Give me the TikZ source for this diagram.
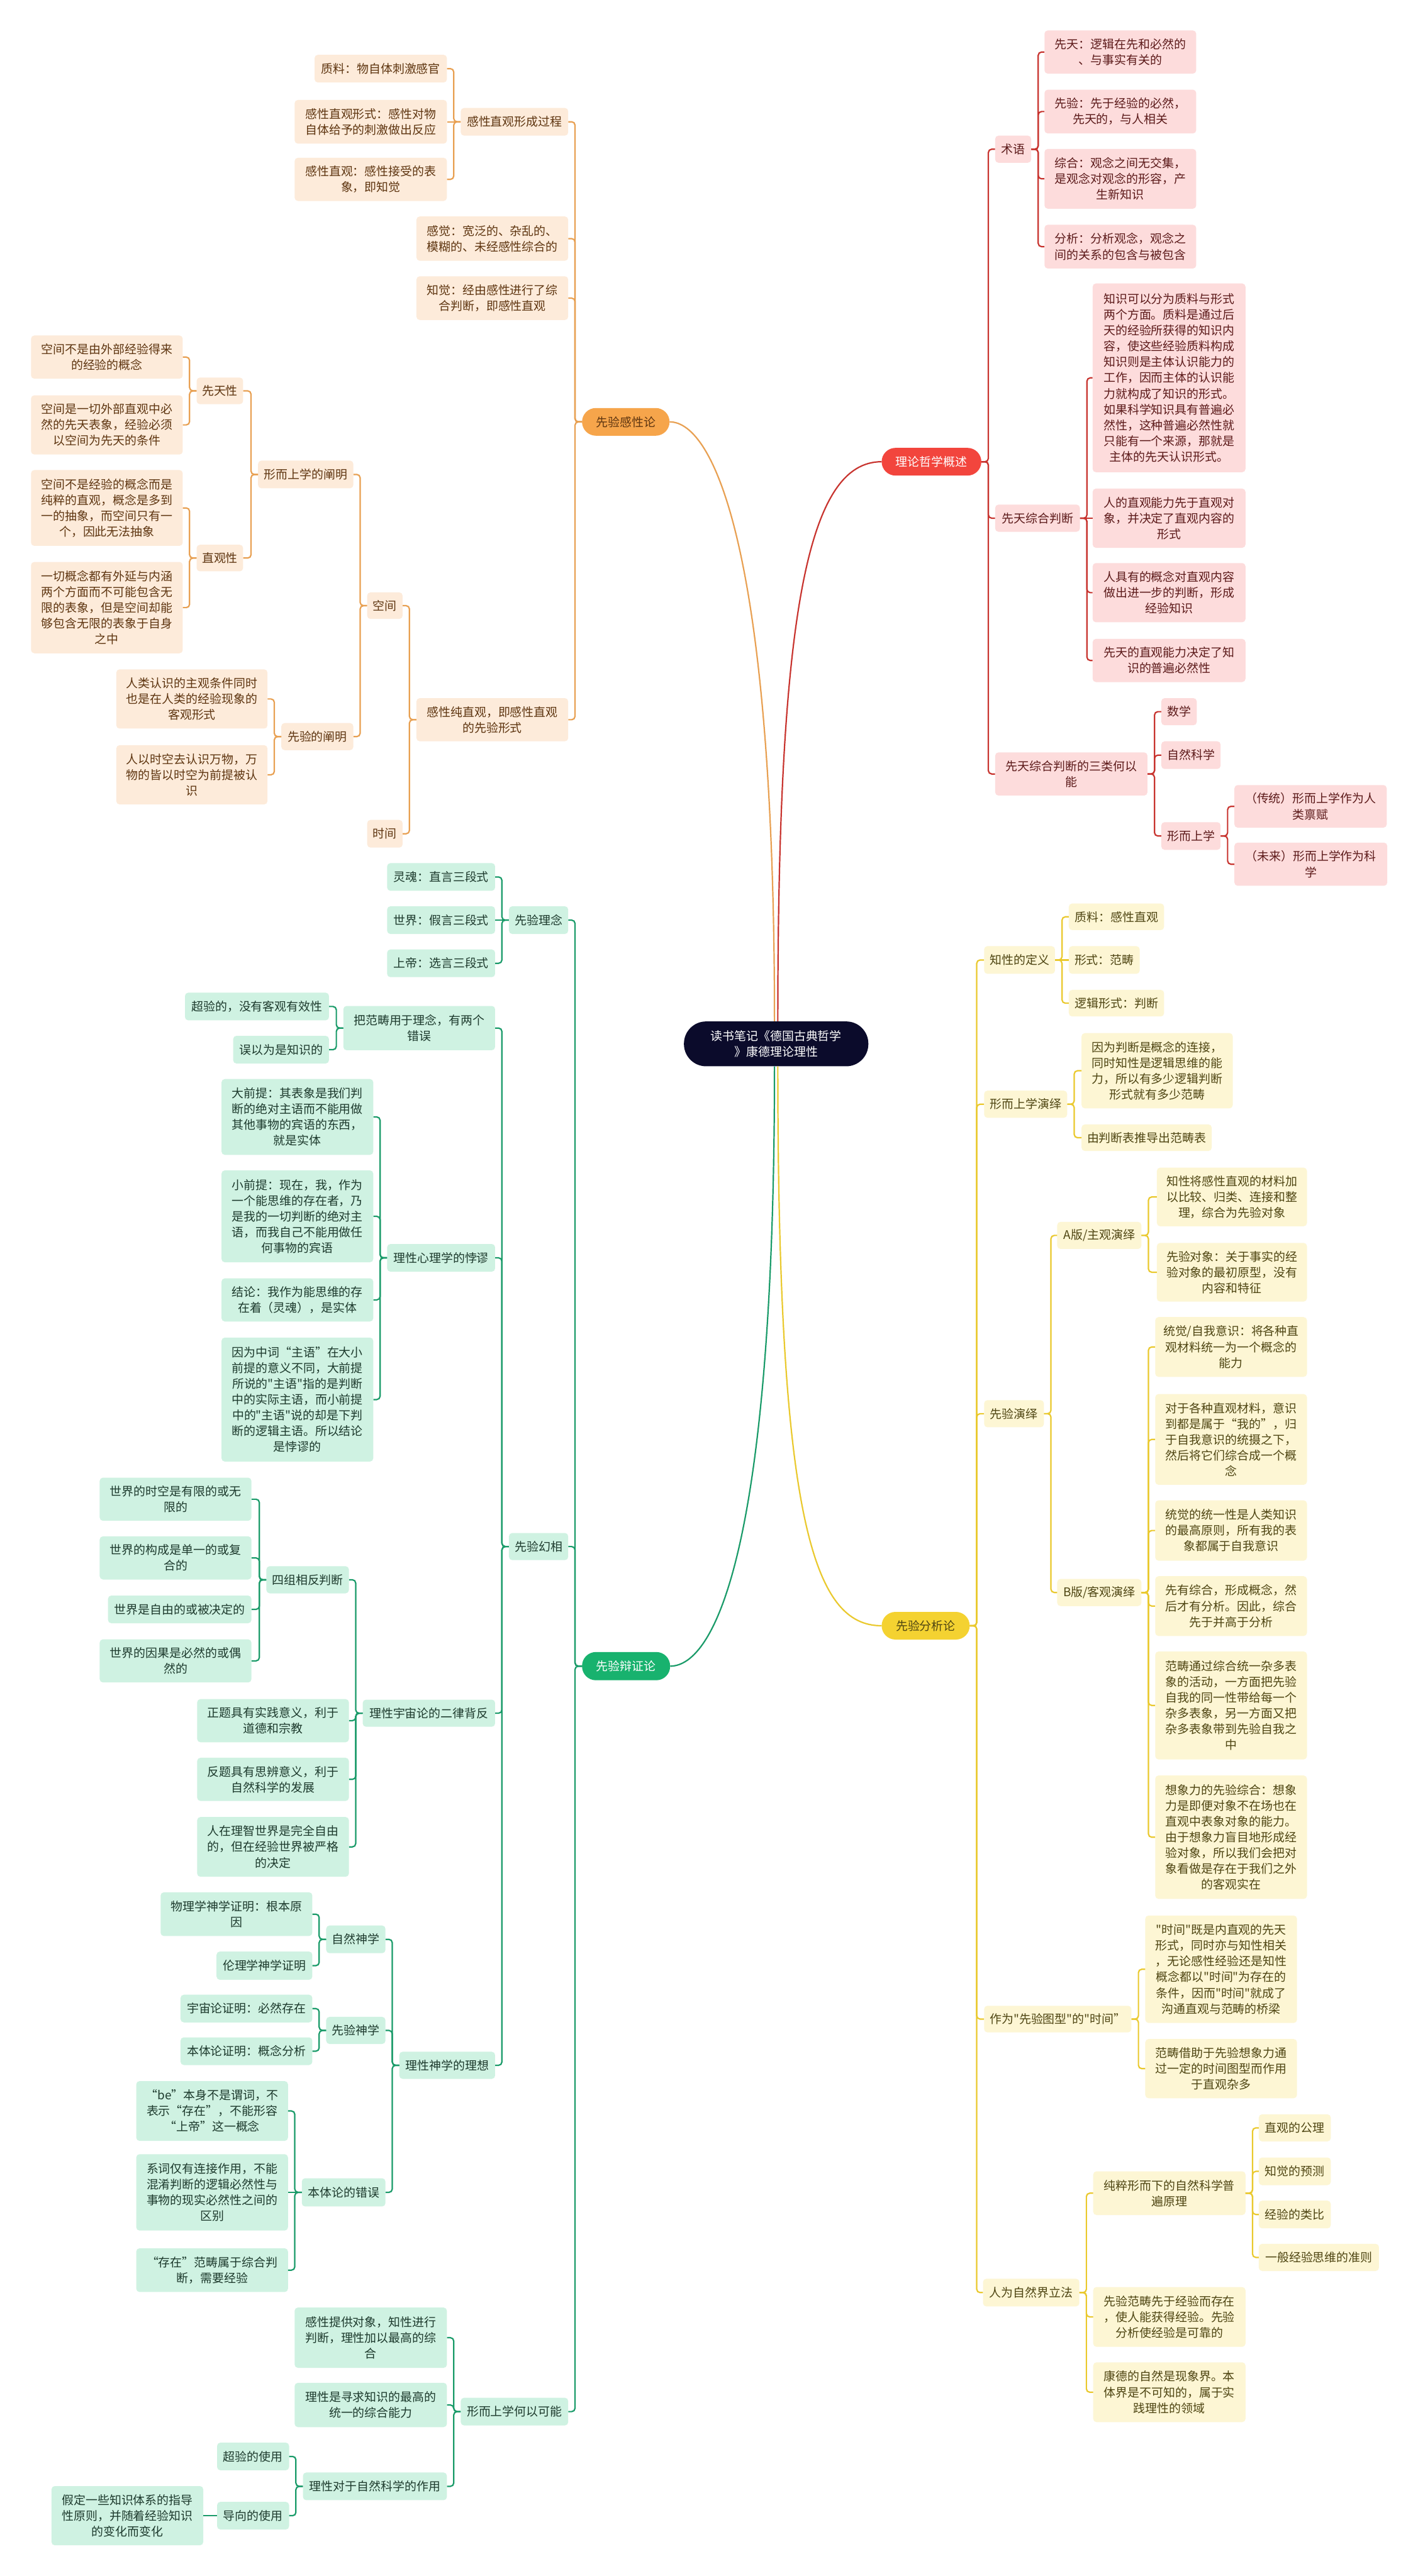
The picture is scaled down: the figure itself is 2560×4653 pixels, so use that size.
\documentclass[tikz,border=0pt]{standalone}
\usepackage{fontspec}
\newfontfamily\cjk{Noto Sans CJK SC}

\definecolor{rootbg}{HTML}{0B0B2B}
\definecolor{redmain}{HTML}{F2453D}
\definecolor{redline}{HTML}{C8342F}
\definecolor{redfill}{HTML}{FDDCDC}
\definecolor{redtext}{HTML}{5C1A1A}
\definecolor{ormain}{HTML}{F6A54B}
\definecolor{orline}{HTML}{E8A052}
\definecolor{orfill}{HTML}{FDEBDA}
\definecolor{ortext}{HTML}{5E3510}
\definecolor{ylmain}{HTML}{F4D231}
\definecolor{ylline}{HTML}{EAC92E}
\definecolor{ylfill}{HTML}{FDF6D4}
\definecolor{yltext}{HTML}{4E4512}
\definecolor{gnmain}{HTML}{18B26E}
\definecolor{gnline}{HTML}{1A9B69}
\definecolor{gnfill}{HTML}{CFF2E2}
\definecolor{gntext}{HTML}{1D3A2D}

\tikzset{
  nodefont/.style={font=\cjk\fontsize{21.5pt}{28.5pt}\selectfont},
  box/.style={nodefont, rounded corners=6pt, inner sep=0pt, align=center},
  sz/.style 2 args={minimum width=#1pt, minimum height=#2pt},
  pinkbox/.style={box, fill=redfill, text=redtext},
  peachbox/.style={box, fill=orfill, text=ortext},
  creambox/.style={box, fill=ylfill, text=yltext},
  mintbox/.style={box, fill=gnfill, text=gntext},
  mainnode/.style={nodefont, rounded corners=25pt, inner sep=0pt, align=center},
  rootnode/.style={nodefont, rounded corners=40pt, inner sep=0pt, align=center, fill=rootbg, text=white},
  redln/.style={draw=redline, line width=2.5pt, rounded corners=6pt},
  orln/.style={draw=orline, line width=2.5pt, rounded corners=6pt},
  ylln/.style={draw=ylline, line width=2.5pt, rounded corners=6pt},
  gnln/.style={draw=gnline, line width=2.5pt, rounded corners=6pt},
}
\newcommand{\linkR}[3]{\draw[#1] (#2.east) -- ++(12.5,0) |- (#3.west);}
\newcommand{\linkL}[3]{\draw[#1] (#2.west) -- ++(-12.5,0) |- (#3.east);}

\begin{document}
\begin{tikzpicture}[x=1pt,y=-1pt]
\fill[white] (0,0) rectangle (2560,4653);
\useasboundingbox (0,0) rectangle (2560,4653);

\node[rootnode, sz={333}{81}] (root) at (1401.5,1885.5) {读书笔记《德国古典哲学\\》康德理论理性};

% 理论哲学概述
\node[mainnode, fill=redmain, text=white, sz={180}{50}] (lilun) at (1682,834) {理论哲学概述};
\node[pinkbox, sz={65}{49}] (shuyu) at (1829.5,269.5) {术语};
\node[pinkbox, sz={274}{78}] (xiantian) at (2023,94) {先天：逻辑在先和必然的\\、与事实有关的};
\node[pinkbox, sz={274}{79}] (xianyan) at (2023,201.5) {先验：先于经验的必然，\\先天的，与人相关};
\node[pinkbox, sz={274}{108}] (zonghe) at (2023,323) {综合：观念之间无交集，\\是观念对观念的形容，产\\生新知识};
\node[pinkbox, sz={274}{79}] (fenxi) at (2023,445.5) {分析：分析观念，观念之\\间的关系的包含与被包含};
\node[pinkbox, sz={153}{49}] (xtzh) at (1873.5,936) {先天综合判断};
\node[pinkbox, sz={276}{341}] (zhishi) at (2111,682.5) {知识可以分为质料与形式\\两个方面。质料是通过后\\天的经验所获得的知识内\\容，使这些经验质料构成\\知识则是主体认识能力的\\工作，因而主体的认识能\\力就构成了知识的形式。\\如果科学知识具有普遍必\\然性，这种普遍必然性就\\只能有一个来源，那就是\\主体的先天认识形式。};
\node[pinkbox, sz={276}{107}] (renzhiguan) at (2111,936) {人的直观能力先于直观对\\象，并决定了直观内容的\\形式};
\node[pinkbox, sz={276}{107}] (gainian) at (2111,1070.5) {人具有的概念对直观内容\\做出进一步的判断，形成\\经验知识};
\node[pinkbox, sz={276}{78}] (xtzhiguan) at (2111,1193) {先天的直观能力决定了知\\识的普遍必然性};
\node[pinkbox, sz={275}{78}] (sanlei) at (1934.5,1398) {先天综合判断的三类何以\\能};
\node[pinkbox, sz={64}{49}] (shuxue) at (2129,1285.5) {数学};
\node[pinkbox, sz={107}{50}] (zrkx) at (2150.5,1364) {自然科学};
\node[pinkbox, sz={107}{50}] (xesx) at (2150.5,1510) {形而上学};
\node[pinkbox, sz={275}{77}] (chuantong) at (2366.5,1456.5) {（传统）形而上学作为人\\类禀赋};
\node[pinkbox, sz={276}{78}] (weilai) at (2367,1561) {（未来）形而上学作为科\\学};

% 先验分析论
\node[mainnode, fill=ylmain, text=yltext, sz={159}{50}] (fenxilun) at (1671.5,2936.5) {先验分析论};
\node[creambox, sz={128}{50}] (zhixing) at (1841,1734) {知性的定义};
\node[creambox, sz={172}{48}] (zhiliao) at (2016,1656) {质料：感性直观};
\node[creambox, sz={128}{50}] (xingshi) at (1994,1734) {形式：范畴};
\node[creambox, sz={172}{48}] (luoji) at (2016,1812) {逻辑形式：判断};
\node[creambox, sz={150}{49}] (xsyanyi) at (1852,1994.5) {形而上学演绎};
\node[creambox, sz={273}{136}] (yinwei) at (2089.5,1934) {因为判断是概念的连接，\\同时知性是逻辑思维的能\\力，所以有多少逻辑判断\\形式就有多少范畴};
\node[creambox, sz={235}{48}] (youpanduan) at (2070.5,2055) {由判断表推导出范畴表};
\node[creambox, sz={108}{49}] (xyyanyi) at (1831,2553.5) {先验演绎};
\node[creambox, sz={152}{49}] (Aban) at (1985,2231.5) {A版/主观演绎};
\node[creambox, sz={271}{106}] (zhixingjiang) at (2224.5,2162) {知性将感性直观的材料加\\以比较、归类、连接和整\\理，综合为先验对象};
\node[creambox, sz={271}{106}] (xyduixiang) at (2224.5,2298) {先验对象：关于事实的经\\验对象的最初原型，没有\\内容和特征};
\node[creambox, sz={152}{49}] (Bban) at (1985,2876.5) {B版/客观演绎};
\node[creambox, sz={274}{108}] (tongjueA) at (2223,2433) {统觉/自我意识：将各种直\\观材料统一为一个概念的\\能力};
\node[creambox, sz={274}{164}] (duiyu) at (2223,2600) {对于各种直观材料，意识\\到都是属于“我的”，归\\于自我意识的统摄之下，\\然后将它们综合成一个概\\念};
\node[creambox, sz={274}{109}] (tongjueB) at (2223,2764.5) {统觉的统一性是人类知识\\的最高原则，所有我的表\\象都属于自我意识};
\node[creambox, sz={274}{108}] (xianyou) at (2223,2901) {先有综合，形成概念，然\\后才有分析。因此，综合\\先于并高于分析};
\node[creambox, sz={274}{195}] (fanchou) at (2223,3080.5) {范畴通过综合统一杂多表\\象的活动，一方面把先验\\自我的同一性带给每一个\\杂多表象，另一方面又把\\杂多表象带到先验自我之\\中};
\node[creambox, sz={274}{223}] (xiangxiang) at (2223,3318.5) {想象力的先验综合：想象\\力是即便对象不在场也在\\直观中表象对象的能力。\\由于想象力盲目地形成经\\验对象，所以我们会把对\\象看做是存在于我们之外\\的客观实在};
\node[creambox, sz={266}{48}] (tuxing) at (1910,3647) {作为"先验图型"的"时间”};
\node[creambox, sz={274}{194}] (qiaoliang) at (2205,3557) {"时间"既是内直观的先天\\形式，同时亦与知性相关\\，无论感性经验还是知性\\概念都以"时间"为存在的\\条件，因而"时间"就成了\\沟通直观与范畴的桥梁};
\node[creambox, sz={274}{107}] (jiezhu) at (2205,3736.5) {范畴借助于先验想象力通\\过一定的时间图型而作用\\于直观杂多};
\node[creambox, sz={174}{50}] (lifa) at (1862,4141) {人为自然界立法};
\node[creambox, sz={275}{79}] (chuncui) at (2111.5,3961.5) {纯粹形而下的自然科学普\\遍原理};
\node[creambox, sz={130}{49}] (gongli) at (2338,3843.5) {直观的公理};
\node[creambox, sz={130}{50}] (yuce) at (2338,3922) {知觉的预测};
\node[creambox, sz={130}{50}] (leibi) at (2338,4000) {经验的类比};
\node[creambox, sz={217}{49}] (zhunze) at (2381.5,4077.5) {一般经验思维的准则};
\node[creambox, sz={275}{108}] (xyfanchou) at (2111.5,4185) {先验范畴先于经验而存在\\，使人能获得经验。先验\\分析使经验是可靠的};
\node[creambox, sz={275}{108}] (kangde) at (2111.5,4321) {康德的自然是现象界。本\\体界是不可知的，属于实\\践理性的领域};

% 先验感性论
\node[mainnode, fill=ormain, text=ortext, sz={158}{50}] (ganxinglun) at (1130,762) {先验感性论};
\node[peachbox, sz={194}{50}] (xingcheng) at (929,220) {感性直观形成过程};
\node[peachbox, sz={239}{50}] (zhiliaoA) at (687.5,124) {质料：物自体刺激感官};
\node[peachbox, sz={275}{79}] (gxxs) at (669.5,220) {感性直观形式：感性对物\\自体给予的刺激做出反应};
\node[peachbox, sz={275}{78}] (gxzg) at (669.5,324) {感性直观：感性接受的表\\象，即知觉};
\node[peachbox, sz={274}{80}] (ganjue) at (889,431) {感觉：宽泛的、杂乱的、\\模糊的、未经感性综合的};
\node[peachbox, sz={274}{79}] (zhijue) at (889,538.5) {知觉：经由感性进行了综\\合判断，即感性直观};
\node[peachbox, sz={274}{78}] (chunzhiguan) at (889,1300) {感性纯直观，即感性直观\\的先验形式};
\node[peachbox, sz={64}{48}] (kongjian) at (695,1094) {空间};
\node[peachbox, sz={64}{50}] (shijianB) at (695,1506) {时间};
\node[peachbox, sz={172}{50}] (xsshanming) at (552,857) {形而上学的阐明};
\node[peachbox, sz={130}{49}] (xyshanming) at (573,1330.5) {先验的阐明};
\node[peachbox, sz={84}{48}] (xiantianxing) at (397,706) {先天性};
\node[peachbox, sz={84}{48}] (zhiguanxing) at (397,1008) {直观性};
\node[peachbox, sz={274}{78}] (kjA) at (193,645) {空间不是由外部经验得来\\的经验的概念};
\node[peachbox, sz={274}{107}] (kjB) at (193,767.5) {空间是一切外部直观中必\\然的先天表象，经验必须\\以空间为先天的条件};
\node[peachbox, sz={274}{137}] (kjC) at (193,917.5) {空间不是经验的概念而是\\纯粹的直观，概念是多到\\一的抽象，而空间只有一\\个，因此无法抽象};
\node[peachbox, sz={274}{165}] (kjD) at (193,1097.5) {一切概念都有外延与内涵\\两个方面而不可能包含无\\限的表象，但是空间却能\\够包含无限的表象于自身\\之中};
\node[peachbox, sz={273}{107}] (renlei) at (346.5,1262.5) {人类认识的主观条件同时\\也是在人类的经验现象的\\客观形式};
\node[peachbox, sz={273}{107}] (renyi) at (346.5,1399.5) {人以时空去认识万物，万\\物的皆以时空为前提被认\\识};

% 先验辩证论
\node[mainnode, fill=gnmain, text=white, sz={159}{51}] (bianzheng) at (1130.5,3009.5) {先验辩证论};
\node[mintbox, sz={107}{50}] (linian) at (972.5,1662) {先验理念};
\node[mintbox, sz={195}{50}] (linghun) at (796.5,1584) {灵魂：直言三段式};
\node[mintbox, sz={195}{50}] (shijie) at (796.5,1662) {世界：假言三段式};
\node[mintbox, sz={195}{50}] (shangdi) at (796.5,1740) {上帝：选言三段式};
\node[mintbox, sz={107}{49}] (huanxiang) at (972.5,2793.5) {先验幻相};
\node[mintbox, sz={274}{80}] (bafanchou) at (757,1857) {把范畴用于理念，有两个\\错误};
\node[mintbox, sz={260}{50}] (chaoyan) at (464,1818) {超验的，没有客观有效性};
\node[mintbox, sz={173}{50}] (wuyiwei) at (507.5,1896) {误以为是知识的};
\node[mintbox, sz={195}{50}] (xinlixue) at (796.5,2272) {理性心理学的悖谬};
\node[mintbox, sz={274}{137}] (daqianti) at (537,2017.5) {大前提：其表象是我们判\\断的绝对主语而不能用做\\其他事物的宾语的东西，\\就是实体};
\node[mintbox, sz={274}{166}] (xiaoqianti) at (537,2197) {小前提：现在，我，作为\\一个能思维的存在者，乃\\是我的一切判断的绝对主\\语，而我自己不能用做任\\何事物的宾语};
\node[mintbox, sz={274}{78}] (jielun) at (537,2348) {结论：我作为能思维的存\\在着（灵魂），是实体};
\node[mintbox, sz={274}{224}] (zhongci) at (537,2528) {因为中词“主语”在大小\\前提的意义不同，大前提\\所说的"主语"指的是判断\\中的实际主语，而小前提\\中的"主语"说的却是下判\\断的逻辑主语。所以结论\\是悖谬的};
\node[mintbox, sz={239}{49}] (yuzhoulun) at (774.5,3094.5) {理性宇宙论的二律背反};
\node[mintbox, sz={149}{49}] (sizu) at (555.5,2853.5) {四组相反判断};
\node[mintbox, sz={274}{78}] (sjA) at (317,2708) {世界的时空是有限的或无\\限的};
\node[mintbox, sz={274}{78}] (sjB) at (317,2814) {世界的构成是单一的或复\\合的};
\node[mintbox, sz={259}{50}] (sjC) at (324.5,2907) {世界是自由的或被决定的};
\node[mintbox, sz={274}{78}] (sjD) at (317,3000) {世界的因果是必然的或偶\\然的};
\node[mintbox, sz={274}{78}] (zhengti) at (493,3108) {正题具有实践意义，利于\\道德和宗教};
\node[mintbox, sz={274}{78}] (fanti) at (493,3214) {反题具有思辨意义，利于\\自然科学的发展};
\node[mintbox, sz={274}{108}] (renzai) at (493,3336) {人在理智世界是完全自由\\的，但在经验世界被严格\\的决定};
\node[mintbox, sz={173}{49}] (shenxue) at (807.5,3730.5) {理性神学的理想};
\node[mintbox, sz={107}{50}] (ziranshen) at (642.5,3503) {自然神学};
\node[mintbox, sz={274}{79}] (wulixue) at (427,3457.5) {物理学神学证明：根本原\\因};
\node[mintbox, sz={173}{51}] (lunlixue) at (477.5,3550.5) {伦理学神学证明};
\node[mintbox, sz={107}{49}] (xyshen) at (642.5,3667.5) {先验神学};
\node[mintbox, sz={238}{50}] (yuzhouzm) at (445,3628) {宇宙论证明：必然存在};
\node[mintbox, sz={238}{50}] (bentizm) at (445,3705) {本体论证明：概念分析};
\node[mintbox, sz={151}{51}] (cuowu) at (620.5,3960) {本体论的错误};
\node[mintbox, sz={274}{108}] (beci) at (383,3813) {“be”本身不是谓词，不\\表示“存在”，不能形容\\“上帝”这一概念};
\node[mintbox, sz={274}{138}] (xici) at (383,3960) {系词仅有连接作用，不能\\混淆判断的逻辑必然性与\\事物的现实必然性之间的\\区别};
\node[mintbox, sz={274}{79}] (cunzai) at (383,4100.5) {“存在”范畴属于综合判\\断，需要经验};
\node[mintbox, sz={194}{50}] (hekeneng) at (929,4356) {形而上学何以可能};
\node[mintbox, sz={275}{109}] (tigong) at (669.5,4222.5) {感性提供对象，知性进行\\判断，理性加以最高的综\\合};
\node[mintbox, sz={275}{80}] (xunqiu) at (669.5,4344) {理性是寻求知识的最高的\\统一的综合能力};
\node[mintbox, sz={260}{50}] (zuoyong) at (677,4491) {理性对于自然科学的作用};
\node[mintbox, sz={130}{50}] (chaoyanuse) at (457,4437) {超验的使用};
\node[mintbox, sz={130}{50}] (daoxiang) at (457,4544) {导向的使用};
\node[mintbox, sz={274}{107}] (jiading) at (230,4544) {假定一些知识体系的指导\\性原则，并随着经验知识\\的变化而变化};

% connectors from the root
\draw[redln] ([xshift=3pt]root.north) .. controls (1404.5,1100) and (1460,834) .. (lilun.west);
\draw[orln] ([xshift=-3pt]root.north) .. controls (1398.5,1000) and (1290,762) .. (ganxinglun.east);
\draw[ylln] ([xshift=3pt]root.south) .. controls (1404.5,2750) and (1470,2936.5) .. (fenxilun.west);
\draw[gnln] ([xshift=-3pt]root.south) .. controls (1398.5,2800) and (1290,3009.5) .. (bianzheng.east);

\foreach \c in {shuyu,xtzh,sanlei} {\linkR{redln}{lilun}{\c}}
\foreach \c in {xiantian,xianyan,zonghe,fenxi} {\linkR{redln}{shuyu}{\c}}
\foreach \c in {zhishi,gainian,xtzhiguan} {\linkR{redln}{xtzh}{\c}}
\draw[redln] (xtzh.east) -- (renzhiguan.west);
\foreach \c in {shuxue,zrkx,xesx} {\linkR{redln}{sanlei}{\c}}
\foreach \c in {chuantong,weilai} {\linkR{redln}{xesx}{\c}}

\foreach \c in {zhixing,xsyanyi,xyyanyi,tuxing,lifa} {\linkR{ylln}{fenxilun}{\c}}
\foreach \c in {zhiliao,luoji} {\linkR{ylln}{zhixing}{\c}}
\draw[ylln] (zhixing.east) -- (xingshi.west);
\foreach \c in {yinwei,youpanduan} {\linkR{ylln}{xsyanyi}{\c}}
\foreach \c in {Aban,Bban} {\linkR{ylln}{xyyanyi}{\c}}
\foreach \c in {zhixingjiang,xyduixiang} {\linkR{ylln}{Aban}{\c}}
\foreach \c in {tongjueA,duiyu,tongjueB,xianyou,fanchou,xiangxiang} {\linkR{ylln}{Bban}{\c}}
\foreach \c in {qiaoliang,jiezhu} {\linkR{ylln}{tuxing}{\c}}
\foreach \c in {chuncui,xyfanchou,kangde} {\linkR{ylln}{lifa}{\c}}
\foreach \c in {gongli,yuce,leibi,zhunze} {\linkR{ylln}{chuncui}{\c}}

\foreach \c in {xingcheng,ganjue,zhijue,chunzhiguan} {\linkL{orln}{ganxinglun}{\c}}
\foreach \c in {zhiliaoA,gxzg} {\linkL{orln}{xingcheng}{\c}}
\draw[orln] (xingcheng.west) -- (gxxs.east);
\foreach \c in {kongjian,shijianB} {\linkL{orln}{chunzhiguan}{\c}}
\foreach \c in {xsshanming,xyshanming} {\linkL{orln}{kongjian}{\c}}
\foreach \c in {xiantianxing,zhiguanxing} {\linkL{orln}{xsshanming}{\c}}
\foreach \c in {kjA,kjB} {\linkL{orln}{xiantianxing}{\c}}
\foreach \c in {kjC,kjD} {\linkL{orln}{zhiguanxing}{\c}}
\foreach \c in {renlei,renyi} {\linkL{orln}{xyshanming}{\c}}

\foreach \c in {linian,huanxiang,hekeneng} {\linkL{gnln}{bianzheng}{\c}}
\foreach \c in {linghun,shangdi} {\linkL{gnln}{linian}{\c}}
\draw[gnln] (linian.west) -- (shijie.east);
\foreach \c in {bafanchou,xinlixue,yuzhoulun,shenxue} {\linkL{gnln}{huanxiang}{\c}}
\foreach \c in {chaoyan,wuyiwei} {\linkL{gnln}{bafanchou}{\c}}
\foreach \c in {daqianti,xiaoqianti,jielun,zhongci} {\linkL{gnln}{xinlixue}{\c}}
\foreach \c in {sizu,zhengti,fanti,renzai} {\linkL{gnln}{yuzhoulun}{\c}}
\foreach \c in {sjA,sjB,sjC,sjD} {\linkL{gnln}{sizu}{\c}}
\foreach \c in {ziranshen,xyshen,cuowu} {\linkL{gnln}{shenxue}{\c}}
\foreach \c in {wulixue,lunlixue} {\linkL{gnln}{ziranshen}{\c}}
\foreach \c in {yuzhouzm,bentizm} {\linkL{gnln}{xyshen}{\c}}
\foreach \c in {beci,cunzai} {\linkL{gnln}{cuowu}{\c}}
\draw[gnln] (cuowu.west) -- (xici.east);
\foreach \c in {tigong,xunqiu,zuoyong} {\linkL{gnln}{hekeneng}{\c}}
\foreach \c in {chaoyanuse,daoxiang} {\linkL{gnln}{zuoyong}{\c}}
\draw[gnln] (daoxiang.west) -- (jiading.east);
\end{tikzpicture}
\end{document}
